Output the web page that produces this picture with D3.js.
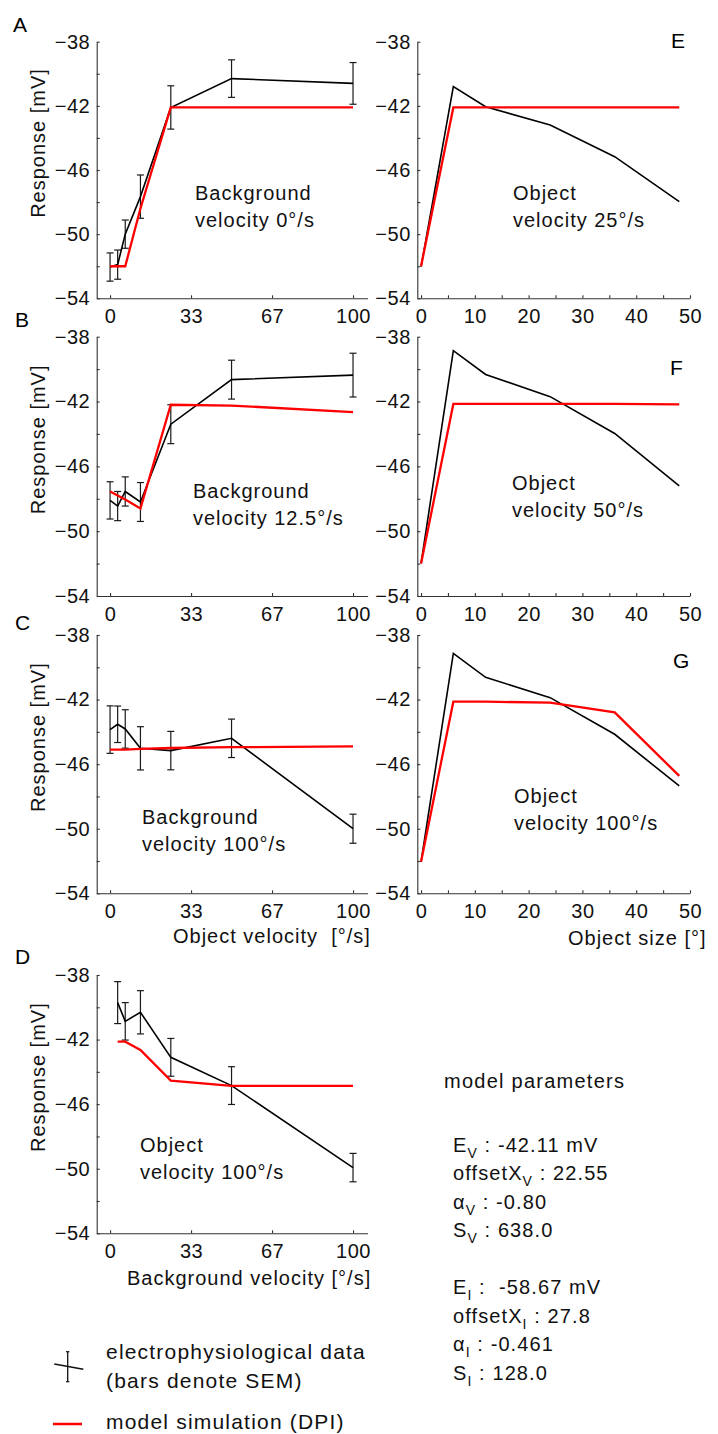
<!DOCTYPE html>
<html>
<head>
<meta charset="utf-8">
<script src="https://cdn.jsdelivr.net/npm/d3@7"></script>
<style>
  body { margin: 0; background: #fff; }
  svg { display: block; font-family: "Liberation Sans", Arial, sans-serif; }
  text { white-space: pre; }
</style>
</head>
<body>
<svg id="fig" width="718" height="1434"></svg>
<script>
// x values
const objVel = [0, 3.125, 6.25, 12.5, 25, 50, 100]
const bgVel = [3.125, 6.25, 12.5, 25, 50, 100]
const objSize = [0, 6, 12, 24, 36, 48]

// A: background velocity 0 deg/s
const dataA = [-52.05, -51.9, -50.0, -47.66, -42.1, -40.3, -40.6]
const semA = [0.88, 0.91, 0.88, 1.35, 1.35, 1.17, 1.3]
const modelA = [-52.0, -52.0, -52.0, -48.4, -42.1, -42.1, -42.1]

// B: background velocity 12.5 deg/s
const dataB = [-48.1, -48.45, -47.55, -48.2, -43.4, -40.65, -40.37]
const semB = [1.15, 0.9, 0.9, 1.2, 1.2, 1.2, 1.35]
const modelB = [-47.55, -47.8, -48.05, -48.6, -42.2, -42.25, -42.65]

// C: background velocity 100 deg/s
const dataC = [-43.86, -43.53, -43.82, -45.02, -45.16, -44.4, -50.0]
const semC = [1.47, 1.13, 1.19, 1.34, 1.19, 1.19, 0.9]
const modelC = [-45.1, -45.1, -45.1, -45.05, -45.0, -44.95, -44.9]

// D: object velocity 100 deg/s, against background velocity
const dataD = [-39.71, -40.87, -40.31, -43.1, -44.85, -49.93]
const semD = [1.3, 1.16, 1.34, 1.17, 1.17, 0.88]
const modelD = [-42.13, -42.13, -42.64, -44.54, -44.87, -44.87]

// E, F, G: object size
const dataE = [-52.03, -40.8, -42.05, -43.2, -45.17, -47.97]
const modelE = [-52.0, -42.1, -42.1, -42.1, -42.1, -42.1]
const dataF = [-51.99, -38.86, -40.33, -41.7, -43.97, -47.2]
const modelF = [-52.0, -42.15, -42.15, -42.15, -42.15, -42.18]
const dataG = [-52.04, -39.14, -40.62, -41.88, -44.15, -47.35]
const modelG = [-52.04, -42.13, -42.13, -42.19, -42.79, -46.73]

const velTicks = [0, 100 / 3, 200 / 3, 100]
const velTickLabels = ["0", "33", "67", "100"]
const sizeTicks = d3.range(0, 51, 5)
const yTicks = d3.range(-54, -37, 2)

const svg = d3.select("#fig")
const FONT = "Liberation Sans, Arial, sans-serif"

// row geometry
const rowTop = [41.7, 336.7, 635, 975]
const rowBottom = [298.3, 596, 893.3, 1233.3]

const xLeft = d3.scaleLinear().domain([-5.5, 106]).range([96.7, 367.6])
const xRight = d3.scaleLinear().domain([-0.7, 50]).range([417.3, 690])

const panels = [
    {id: "A", row: 0, left: true, xs: objVel, data: dataA, sem: semA, model: modelA,
        note: ["Background", "velocity 0°/s"], nx: 195, ny: 200, lx: 13, ly: 32},
    {id: "B", row: 1, left: true, xs: objVel, data: dataB, sem: semB, model: modelB,
        note: ["Background", "velocity 12.5°/s"], nx: 193, ny: 498, lx: 15, ly: 327},
    {id: "C", row: 2, left: true, xs: objVel, data: dataC, sem: semC, model: modelC,
        note: ["Background", "velocity 100°/s"], nx: 142, ny: 824, lx: 15, ly: 630},
    {id: "D", row: 3, left: true, xs: bgVel, data: dataD, sem: semD, model: modelD,
        note: ["Object", "velocity 100°/s"], nx: 140, ny: 1152, lx: 15, ly: 964},
    {id: "E", row: 0, left: false, xs: objSize, data: dataE, model: modelE,
        note: ["Object", "velocity 25°/s"], nx: 513, ny: 200, lx: 671, ly: 48},
    {id: "F", row: 1, left: false, xs: objSize, data: dataF, model: modelF,
        note: ["Object", "velocity 50°/s"], nx: 512, ny: 490, lx: 670, ly: 375},
    {id: "G", row: 2, left: false, xs: objSize, data: dataG, model: modelG,
        note: ["Object", "velocity 100°/s"], nx: 514, ny: 803, lx: 673, ly: 668}
]

panels.forEach(p => {
    const x = p.left ? xLeft : xRight
    const y = d3.scaleLinear().domain([-54, -38]).range([rowBottom[p.row], rowTop[p.row]])
    const g = svg.append("g")

    //axes
    const xAxis = (p.left
        ? d3.axisBottom(x).tickValues(velTicks).tickFormat((d, i) => velTickLabels[i])
        : d3.axisBottom(x).tickValues(sizeTicks).tickFormat(d => d % 10 === 0 ? d : ""))
        .tickSizeInner(-3).tickSizeOuter(0).tickPadding(10.8)
    const yAxis = d3.axisLeft(y).tickValues(yTicks)
        .tickFormat(d => d % 4 !== 0 ? d3.format("d")(d) : "")
        .tickSizeInner(-3).tickSizeOuter(0).tickPadding(6.5)

    ;[
        g.append("g").attr("transform", `translate(0,${rowBottom[p.row]})`).call(xAxis),
        g.append("g").attr("transform", `translate(${x.range()[0]},0)`).call(yAxis)
    ].forEach(a => {
        a.attr("font-family", FONT).attr("font-size", 20)
        a.selectAll("path, line").attr("stroke", "#333").attr("stroke-width", 1.1)
        a.selectAll("text").attr("fill", "#111").attr("letter-spacing", 0.5)
    })

    const line = d3.line().x((d, i) => x(p.xs[i])).y(d => y(d))

    // data with SEM bars
    if (p.sem) {
        const bars = g.append("g").attr("stroke", "#1a1a1a").attr("stroke-width", 1.2)
        p.data.forEach((v, i) => {
            const cx = x(p.xs[i]), lo = y(v - p.sem[i]), hi = y(v + p.sem[i])
            bars.append("line").attr("x1", cx).attr("x2", cx).attr("y1", lo).attr("y2", hi)
            bars.append("line").attr("x1", cx - 3.5).attr("x2", cx + 3.5).attr("y1", lo).attr("y2", lo)
            bars.append("line").attr("x1", cx - 3.5).attr("x2", cx + 3.5).attr("y1", hi).attr("y2", hi)
        })
    }
    g.append("path").attr("d", line(p.data))
        .attr("fill", "none").attr("stroke", "#000").attr("stroke-width", 1.6)
    g.append("path").attr("d", line(p.model))
        .attr("fill", "none").attr("stroke", "#ff0000").attr("stroke-width", 2.3)
        .attr("stroke-linejoin", "miter")

    //annotation
    p.note.forEach((t, i) => {
        g.append("text").attr("x", p.nx).attr("y", p.ny + i * 27)
            .attr("font-size", 20).attr("letter-spacing", 1).attr("fill", "#111").text(t)
    })
    g.append("text").attr("x", p.lx).attr("y", p.ly)
        .attr("font-size", 21).attr("fill", "#000").text(p.id)

    if (p.left) {
        const cy = (rowTop[p.row] + rowBottom[p.row]) / 2 - 27
        g.append("text").attr("transform", `translate(45,${cy}) rotate(-90)`)
            .attr("text-anchor", "middle").attr("font-size", 20).attr("letter-spacing", 1)
            .attr("fill", "#111").text("Response [mV]")
    }
})

// axis titles
const titles = [
    {t: "Object velocity  [°/s]", x: 173, y: 943},
    {t: "Object size [°]", x: 568, y: 945},
    {t: "Background velocity [°/s]", x: 127, y: 1285}
]
titles.forEach(d => {
    svg.append("text").attr("x", d.x).attr("y", d.y)
        .attr("font-size", 20).attr("letter-spacing", 1).attr("fill", "#111").text(d.t)
})

// legend
const leg = svg.append("g")
leg.append("line").attr("x1", 67.7).attr("x2", 67.7).attr("y1", 1351.7).attr("y2", 1381.7)
    .attr("stroke", "#111").attr("stroke-width", 1.3)
leg.append("line").attr("x1", 66).attr("x2", 69.4).attr("y1", 1351.7).attr("y2", 1351.7)
    .attr("stroke", "#111").attr("stroke-width", 1.2)
leg.append("line").attr("x1", 66).attr("x2", 69.4).attr("y1", 1381.7).attr("y2", 1381.7)
    .attr("stroke", "#111").attr("stroke-width", 1.2)
leg.append("line").attr("x1", 54.3).attr("x2", 83.3).attr("y1", 1364).attr("y2", 1369.3)
    .attr("stroke", "#111").attr("stroke-width", 1.5)
leg.append("line").attr("x1", 53).attr("x2", 82).attr("y1", 1424).attr("y2", 1424)
    .attr("stroke", "#ff0000").attr("stroke-width", 2.5)
const legendText = [
    {t: "electrophysiological data", y: 1359},
    {t: "(bars denote SEM)", y: 1388},
    {t: "model simulation (DPI)", y: 1429}
]
legendText.forEach(d => {
    leg.append("text").attr("x", 106).attr("y", d.y)
        .attr("font-size", 21).attr("letter-spacing", 1.2).attr("fill", "#111").text(d.t)
})

// model parameters
const paramNames = [["E", "V"], ["offsetX", "V"], ["α", "V"], ["S", "V"], null, ["E", "I"], ["offsetX", "I"], ["α", "I"], ["S", "I"]]
const paramValues = [" : -42.11 mV", " : 22.55", " : -0.80", " : 638.0", null, " :  -58.67 mV", " : 27.8", " : -0.461", " : 128.0"]
const pg = svg.append("g").attr("font-size", 20).attr("letter-spacing", 1.1).attr("fill", "#111")
pg.append("text").attr("x", 444).attr("y", 1088).attr("letter-spacing", 1.25).text("model parameters")
paramNames.forEach((n, i) => {
    if (!n) return
    const t = pg.append("text").attr("x", 453).attr("y", 1151.7 + i * 28.5)
    t.append("tspan").text(n[0])
    t.append("tspan").attr("font-size", 14).attr("dy", 6).text(n[1])
    t.append("tspan").attr("dy", -6).text(paramValues[i])
})
</script>
</body>
</html>
